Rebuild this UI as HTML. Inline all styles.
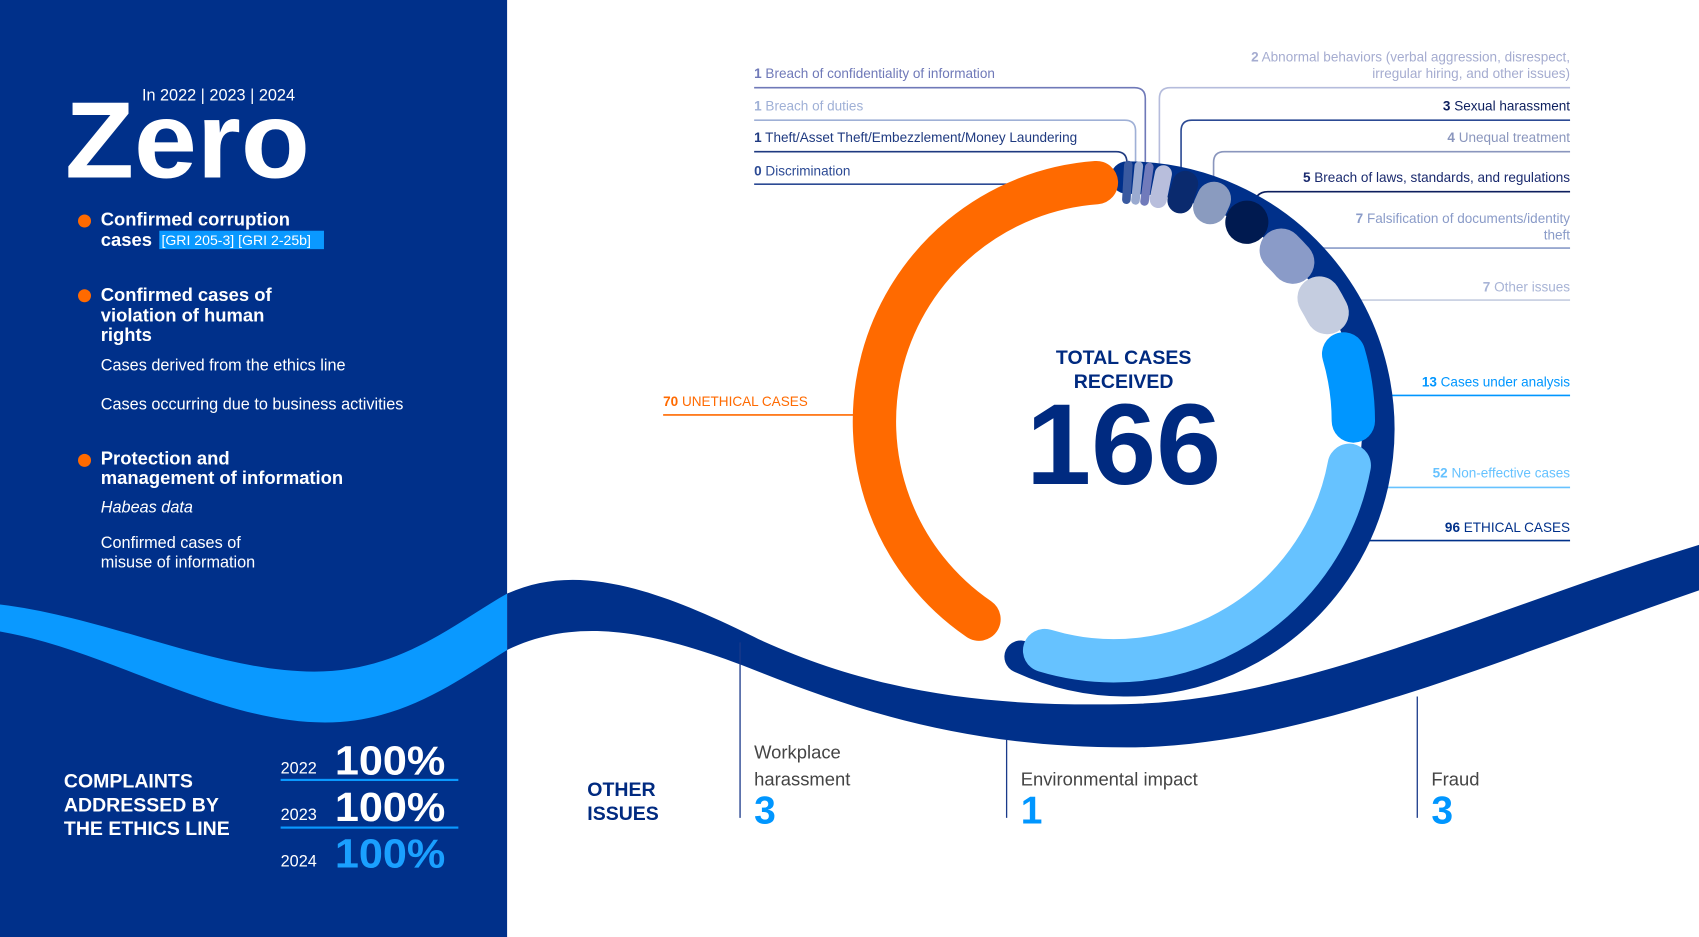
<!DOCTYPE html>
<html><head><meta charset="utf-8"><style>
html,body{margin:0;padding:0;background:#fff;overflow:hidden}
svg{display:block;font-family:"Liberation Sans",sans-serif}
</style></head><body>
<svg id="chart" width="1699" height="937" viewBox="0 0 1568 865" preserveAspectRatio="none" xmlns="http://www.w3.org/2000/svg">
<rect x="0" y="0" width="468" height="865" fill="#00308a"/>
<path d="M0,558 C100,570 200,620 290,620 C370,620 420,575 468,548 L468,600 C420,630 370,667 300,667 C200,667 100,600 0,583 Z" fill="#0a99ff"/>
<path d="M468,548 C530,520 600,540 700,590 C820,645 930,652 1040,650 C1200,647 1380,560 1568,503 L1568,545 C1380,610 1200,690 1040,690 C900,690 800,660 700,620 C600,580 530,570 468,600 Z" fill="#00308a"/>

<g fill="#fff">
<text x="131" y="93" font-size="15">In 2022 | 2023 | 2024</text>
<text x="60" y="164" font-size="100" font-weight="bold" textLength="226" lengthAdjust="spacingAndGlyphs">Zero</text>
<circle cx="78" cy="204" r="6" fill="#ff6a00"/>
<circle cx="78" cy="273" r="6" fill="#ff6a00"/>
<circle cx="78" cy="425" r="6" fill="#ff6a00"/>
<g font-size="17" font-weight="bold">
<text x="93" y="208">Confirmed corruption</text>
<text x="93" y="227">cases</text>
<text x="93" y="278">Confirmed cases of</text>
<text x="93" y="297">violation of human</text>
<text x="93" y="315">rights</text>
<text x="93" y="429">Protection and</text>
<text x="93" y="447">management of information</text>
</g>
<rect x="147" y="213" width="152" height="17" fill="#0a99ff"/>
<text x="149" y="226" font-size="13">[GRI 205-3] [GRI 2-25b]</text>
<g font-size="15">
<text x="93" y="342">Cases derived from the ethics line</text>
<text x="93" y="378">Cases occurring due to business activities</text>
<text x="93" y="473" font-style="italic">Habeas data</text>
<text x="93" y="506">Confirmed cases of</text>
<text x="93" y="524">misuse of information</text>
</g>
<g font-size="18" font-weight="bold">
<text x="59" y="727">COMPLAINTS</text>
<text x="59" y="749">ADDRESSED BY</text>
<text x="59" y="771">THE ETHICS LINE</text>
</g>
<g font-size="15"><text x="259" y="714">2022</text><text x="259" y="757">2023</text><text x="259" y="800">2024</text></g>
<g font-size="38" font-weight="bold"><text x="309" y="715" textLength="102" lengthAdjust="spacingAndGlyphs">100%</text><text x="309" y="758" textLength="102" lengthAdjust="spacingAndGlyphs">100%</text><text x="309" y="801" fill="#1aa0ff" textLength="102" lengthAdjust="spacingAndGlyphs">100%</text></g>
<rect x="259" y="719" width="164" height="2" fill="#0a99ff"/>
<rect x="259" y="763" width="164" height="2" fill="#0a99ff"/>
</g>

<g fill="none" stroke-width="1.5">
<path d="M696,81 H1047 Q1057,81 1057,91 V160" stroke="#6f79b8"/>
<path d="M696,111 H1038 Q1048,111 1048,121 V160" stroke="#9fb0d6"/>
<path d="M696,140 H1030 Q1040,140 1040,150 V165" stroke="#1f3a80"/>
<path d="M696,170 H1027 Q1037,170 1037,180 V185" stroke="#2c4a94"/>
<path d="M1449,81 H1080 Q1070,81 1070,91 V165" stroke="#b5bcdc"/>
<path d="M1449,111 H1100 Q1090,111 1090,121 V175" stroke="#2c4a94"/>
<path d="M1449,140 H1130 Q1120,140 1120,150 V182" stroke="#8a96bd"/>
<path d="M1449,177 H1170 Q1158,177 1156,192" stroke="#0d1f5e"/>
<path d="M1449,229 H1200" stroke="#8a9bc8"/>
<path d="M1449,277 H1238" stroke="#c5cde0"/>
<path d="M1449,365 H1268" stroke="#0096ff"/>
<path d="M1449,450 H1268" stroke="#66c2ff"/>
<path d="M1449,499 H1262" stroke="#00308a"/>
<path d="M612,383 H790" stroke="#ff6a00"/>
</g>

<g id="donut"></g>

<g font-size="12.5">
<text x="696" y="72" fill="#6f79b8"><tspan font-weight="bold">1</tspan> Breach of confidentiality of information</text>
<text x="696" y="102" fill="#9fb0d6"><tspan font-weight="bold">1</tspan> Breach of duties</text>
<text x="696" y="131" fill="#1f3a80"><tspan font-weight="bold">1</tspan> Theft/Asset Theft/Embezzlement/Money Laundering</text>
<text x="696" y="162" fill="#2c4a94"><tspan font-weight="bold">0</tspan> Discrimination</text>
<g text-anchor="end">
<text x="1449" y="57" fill="#a5acd0"><tspan font-weight="bold">2</tspan> Abnormal behaviors (verbal aggression, disrespect,</text>
<text x="1449" y="72" fill="#a5acd0">irregular hiring, and other issues)</text>
<text x="1449" y="102" fill="#0d1f5e"><tspan font-weight="bold">3</tspan> Sexual harassment</text>
<text x="1449" y="131" fill="#8a96bd"><tspan font-weight="bold">4</tspan> Unequal treatment</text>
<text x="1449" y="168" fill="#1a2a6e"><tspan font-weight="bold">5</tspan> Breach of laws, standards, and regulations</text>
<text x="1449" y="206" fill="#8a9bc8"><tspan font-weight="bold">7</tspan> Falsification of documents/identity</text>
<text x="1449" y="221" fill="#8a9bc8">theft</text>
<text x="1449" y="269" fill="#a8b4d6"><tspan font-weight="bold">7</tspan> Other issues</text>
<text x="1449" y="357" fill="#0096ff"><tspan font-weight="bold">13</tspan> Cases under analysis</text>
<text x="1449" y="441" fill="#66c2ff"><tspan font-weight="bold">52</tspan> Non-effective cases</text>
<text x="1449" y="491" fill="#00308a"><tspan font-weight="bold">96</tspan> ETHICAL CASES</text>
</g>
<text x="612" y="375" fill="#ff6a00"><tspan font-weight="bold">70</tspan> UNETHICAL CASES</text>
</g>

<g fill="#002a80" text-anchor="middle" font-weight="bold">
<text x="1037" y="336" font-size="18">TOTAL CASES</text>
<text x="1037" y="358" font-size="18">RECEIVED</text>
<text x="1037" y="447" font-size="106" textLength="180" lengthAdjust="spacingAndGlyphs">166</text>
</g>

<g>
<g stroke="#1a3a8a" stroke-width="1.2"><line x1="683" y1="593" x2="683" y2="755"/><line x1="929" y1="683" x2="929" y2="755"/><line x1="1308" y1="643" x2="1308" y2="755"/></g>
<g fill="#002a80" font-size="18" font-weight="bold"><text x="542" y="735">OTHER</text><text x="542" y="757">ISSUES</text></g>
<g fill="#444" font-size="17"><text x="696" y="700">Workplace</text><text x="696" y="725">harassment</text><text x="942" y="725">Environmental impact</text><text x="1321" y="725">Fraud</text></g>
<g fill="#0096ff" font-size="36" font-weight="bold"><text x="696" y="760">3</text><text x="942" y="760">1</text><text x="1321" y="760">3</text></g>
</g>
</svg>
<script>
const categories = ["Discrimination","Theft","Breach of duties","Breach of confidentiality","Abnormal behaviors","Sexual harassment","Unequal treatment","Breach of laws","Falsification","Other issues","Cases under analysis","Non-effective cases"];
const values = [0,1,1,1,2,3,4,5,7,7,13,52];
const colors = ["#2c4a94","#3a5aa0","#9aaad0","#717bbb","#b8bedc","#0a2a6e","#8a9bbf","#001a50","#8a9bc8","#c5cde0","#0096ff","#66c2ff"];
const unethicalValue = 70;

const NS="http://www.w3.org/2000/svg";
const g=document.getElementById('donut');
const cx=1028, cy=389, R=221, W=40, degPer=2.05, gap=0.3;
function pt(r,a){const t=a*Math.PI/180;return [cx+r*Math.sin(t), cy-r*Math.cos(t)];}
function arcPath(r,a0,a1,ccx,ccy){const t0=a0*Math.PI/180,t1=a1*Math.PI/180;
 const p0=[ccx+r*Math.sin(t0),ccy-r*Math.cos(t0)],p1=[ccx+r*Math.sin(t1),ccy-r*Math.cos(t1)];
 const large=(a1-a0)>180?1:0;return `M${p0[0]},${p0[1]} A${r},${r} 0 ${large} 1 ${p1[0]},${p1[1]}`;}
const back=document.createElementNS(NS,'path');


back.setAttribute('d',arcPath(232,0,205,1040,396));
back.setAttribute('fill','none');back.setAttribute('stroke','#00308a');back.setAttribute('stroke-width','30');back.setAttribute('stroke-linecap','round');
g.appendChild(back);
function segment(a0,sweep,color,name){
 const L=sweep*Math.PI/180*R;
 if(L<=0.01)return;
 let el;
 if(L<=W){
  el=document.createElementNS(NS,'rect');
  const c=pt(R,a0+sweep/2);
  el.setAttribute('x',-L/2);el.setAttribute('y',-W/2);el.setAttribute('width',L);el.setAttribute('height',W);
  el.setAttribute('rx',Math.min(L/2,W/2));
  el.setAttribute('transform',`translate(${c[0]},${c[1]}) rotate(${a0+sweep/2})`);
  el.setAttribute('fill',color);
 } else {
  const cap=(W/2)/R*180/Math.PI;
  el=document.createElementNS(NS,'path');
  el.setAttribute('d',arcPath(R,a0+cap,a0+sweep-cap,cx,cy));
  el.setAttribute('fill','none');el.setAttribute('stroke',color);el.setAttribute('stroke-width',W);el.setAttribute('stroke-linecap','round');
 }
 
 
 g.appendChild(el);
}
let a=2.2;
values.forEach((v,i)=>{const s=v*degPer;segment(a,s,colors[i],'segment-'+categories[i].toLowerCase().replace(/[^a-z]+/g,'-'));a+=s+(v>0?gap:0);});
const os=unethicalValue*2.17;
segment(1-os,os,'#ff6a00','segment-unethical-cases');
</script>
</body></html>
